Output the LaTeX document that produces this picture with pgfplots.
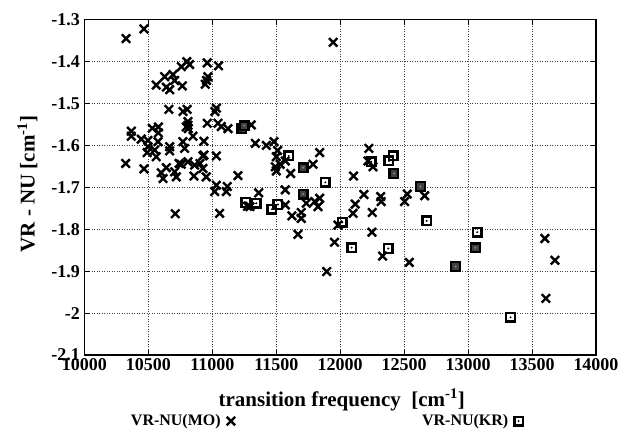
\documentclass[border=0pt]{standalone}
\usepackage{fontspec}
\setmainfont{Liberation Serif}
\usepackage{pgfplots}
\usepackage{pgfplotstable}
\pgfplotsset{compat=1.18}
\pgfdeclareplotmark{sqdot}{%
  \pgfpathrectangle{\pgfpoint{-\pgfplotmarksize}{-\pgfplotmarksize}}{\pgfpoint{2\pgfplotmarksize}{2\pgfplotmarksize}}%
  \pgfusepathqstroke
  \pgfpathcircle{\pgfpointorigin}{1.1pt}%
  \pgfusepathqfill
}
\pgfdeclareplotmark{sqdark}{%
  \pgfpathrectangle{\pgfpoint{-\pgfplotmarksize}{-\pgfplotmarksize}}{\pgfpoint{2\pgfplotmarksize}{2\pgfplotmarksize}}%
  \pgfsetfillcolor{black!75}%
  \pgfusepathqfillstroke
  \pgfsetfillcolor{black!45}%
  \pgfpathcircle{\pgfpointorigin}{1.1pt}%
  \pgfusepathqfill
}
\pgfdeclareplotmark{bigx}{%
  \pgfpathmoveto{\pgfpoint{-\pgfplotmarksize}{-\pgfplotmarksize}}%
  \pgfpathlineto{\pgfpoint{\pgfplotmarksize}{\pgfplotmarksize}}%
  \pgfpathmoveto{\pgfpoint{-\pgfplotmarksize}{\pgfplotmarksize}}%
  \pgfpathlineto{\pgfpoint{\pgfplotmarksize}{-\pgfplotmarksize}}%
  \pgfusepathqstroke
}
\pgfplotstableread{
x y
10325 -1.345
10465 -1.322
10800 -1.400
10822 -1.407
10758 -1.412
10960 -1.403
11048 -1.410
10627 -1.436
10692 -1.431
10705 -1.445
10561 -1.456
10640 -1.461
10666 -1.467
10765 -1.458
10965 -1.436
10944 -1.454
10955 -1.445
10660 -1.514
10770 -1.519
10803 -1.514
11031 -1.511
11020 -1.519
10809 -1.543
10809 -1.552
10812 -1.560
10960 -1.547
11044 -1.547
11070 -1.555
11122 -1.560
11304 -1.551
10366 -1.566
10366 -1.578
10444 -1.585
10496 -1.588
10530 -1.559
10578 -1.556
10578 -1.570
10496 -1.603
10575 -1.591
10549 -1.611
10490 -1.617
10561 -1.627
10666 -1.603
10666 -1.613
10322 -1.643
10465 -1.656
10614 -1.679
10640 -1.653
10705 -1.663
10718 -1.675
10710 -1.763
10770 -1.591
10783 -1.607
10809 -1.639
10861 -1.647
10856 -1.673
10796 -1.556
10848 -1.578
10757 -1.645
10934 -1.590
10926 -1.625
11031 -1.625
10926 -1.655
10952 -1.675
11031 -1.695
11018 -1.710
11116 -1.698
11109 -1.710
11200 -1.672
11057 -1.762
11336 -1.595
11422 -1.600
11482 -1.591
11500 -1.627
11492 -1.651
11500 -1.661
11570 -1.637
11612 -1.667
11362 -1.713
11570 -1.706
11294 -1.746
11275 -1.745
11570 -1.742
11622 -1.768
11695 -1.760
11695 -1.774
11734 -1.738
11669 -1.812
11945 -1.354
11839 -1.617
11787 -1.645
11800 -1.734
11839 -1.726
11826 -1.746
11982 -1.790
11955 -1.831
11894 -1.901
12224 -1.607
12217 -1.637
12256 -1.651
12104 -1.673
12185 -1.717
12117 -1.740
12100 -1.762
12250 -1.760
12316 -1.722
12320 -1.734
12524 -1.716
12503 -1.734
12248 -1.807
12660 -1.720
12331 -1.864
12540 -1.879
13600 -1.822
13679 -1.874
13608 -1.965
11510 -1.612
11530 -1.645
10600 -1.665
10740 -1.643
10903 -1.643
10934 -1.623
}\mo
\pgfplotstableread{
x y
11597 -1.625
11260 -1.736
11343 -1.738
11466 -1.752
11513 -1.741
11883 -1.688
12016 -1.783
12243 -1.639
12381 -1.637
12414 -1.625
12089 -1.844
12375 -1.846
12676 -1.780
13071 -1.807
13332 -2.010
}\kr
\pgfplotstableread{
x y
11230 -1.560
11250 -1.553
11711 -1.653
11711 -1.716
12420 -1.667
12628 -1.698
12902 -1.889
13058 -1.844
}\krdark
\begin{document}
\begin{tikzpicture}
\useasboundingbox (-84.5pt,-83pt) rectangle (540.5pt,355pt);
\begin{axis}[
  scale only axis,
  width=511.5pt, height=335.3pt,
  xmin=10000, xmax=14000, ymin=-2.1, ymax=-1.3,
  scaled x ticks=false, scaled y ticks=false,
  xtick={10000,10500,11000,11500,12000,12500,13000,13500,14000},
  xticklabels={10000,10500,11000,11500,12000,12500,13000,13500,14000},
  ytick={-2.1,-2,-1.9,-1.8,-1.7,-1.6,-1.5,-1.4,-1.3},
  yticklabels={-2.1,-2,-1.9,-1.8,-1.7,-1.6,-1.5,-1.4,-1.3},
  tick label style={font=\fontsize{18}{18}\selectfont\bfseries},
  yticklabel style={xshift=-1pt},
  tick align=inside,
  major tick length=5pt,
  axis line style={line width=1.2pt},
  tick style={line width=0.8pt, black},
  grid=major,
  major grid style={black!75, line width=0.6pt, dash pattern=on 1pt off 1.5pt},
  xlabel={transition frequency~~[cm\textsuperscript{-1}]},
  ylabel={VR - NU [cm\textsuperscript{-1}]},
  every axis x label/.style={at={(axis description cs:0.503,-0.134)}, anchor=center, font=\fontsize{21}{21}\selectfont\bfseries},
  every axis y label/.style={at={(axis description cs:-0.1114,0.51)}, anchor=center, rotate=90, font=\fontsize{21}{21}\selectfont\bfseries},
  legend columns=2,
  legend plot pos=right,
  legend style={draw=none, fill=none, font=\fontsize{16}{16}\selectfont\bfseries,
    at={(axis description cs:0.472,-0.197)}, anchor=center,
    /tikz/every even column/.append style={column sep=185pt},
    /tikz/every odd column/.append style={column sep=4pt}},
]
\addplot[only marks, mark=bigx, mark size=4.2pt, black, mark options={line width=2.4pt}] table {\mo};
\addlegendentry{VR-NU(MO)}
\addplot[only marks, mark=sqdot, mark size=4.3pt, black, mark options={line width=2.4pt}] table {\kr};
\addlegendentry{VR-NU(KR)}
\addplot[only marks, mark=sqdark, mark size=4.3pt, black, mark options={line width=2.4pt}, forget plot] table {\krdark};
\end{axis}
\end{tikzpicture}
\end{document}
